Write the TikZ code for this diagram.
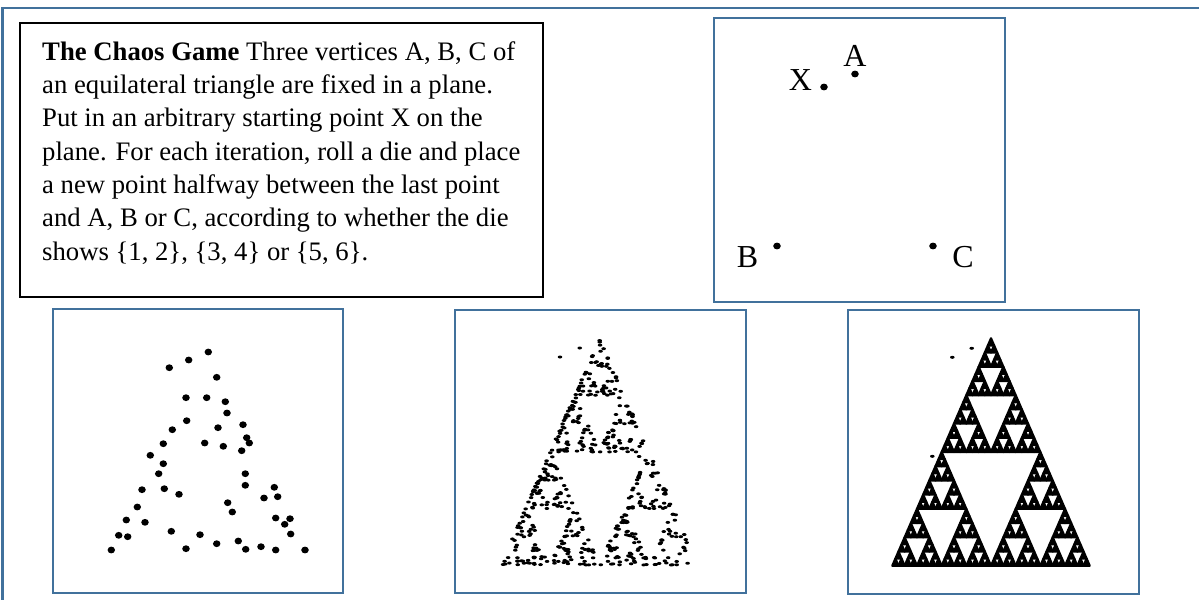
\documentclass[tikz,border=0pt]{standalone}
\usepackage{fontspec}
\setmainfont{Liberation Serif}
\usetikzlibrary{calc}
\definecolor{frameblue}{RGB}{65,113,156}
\newcommand\cgdot[1]{\draw[line width=3] #1 ellipse (2.1 and 1.8);}
\newcommand\cgspeck[1]{\fill #1 ellipse (2.3 and 1.5);}

\begin{document}
\begin{tikzpicture}[x=1pt, y=-1pt,
  panel/.style={draw=frameblue, line width=2.5, inner sep=0, outer sep=0, minimum width=291, minimum height=284},
  letter/.style={inner sep=0, font=\fontsize{32}{38}\selectfont}]
\useasboundingbox (0,0) rectangle (1199,600);
\draw[frameblue, line width=2.5] (1199,8) -- (2.5,8) -- (2.5,600);

\node[draw, line width=2, inner sep=0, minimum width=523, minimum height=274] (rulesbox) at (281.5,160) {};
\node[anchor=north west, inner sep=0, align=left, font=\fontsize{26.7}{33.3}\selectfont] (rules) at (42,41.3)
  {\textbf{The Chaos Game} Three vertices A, B, C of\\
   an equilateral triangle are fixed in a plane.\\
   Put in an arbitrary starting point X on the\\
   plane. For each iteration, roll a die and place\\
   a new point halfway between the last point\\
   and A, B or C, according to whether the die\\
   shows \{1, 2\}, \{3, 4\} or \{5, 6\}.};

\node[panel] (start) at (859.5,160) {};
\node[panel, minimum width=290] (few) at (198,451) {};
\node[panel, minimum height=283] (more) at (600.5,451.5) {};
\node[panel] (many) at (993.5,452) {};

% start position
\node[letter] (lx) at (800.5,80) {X};
\node[letter] (la) at (855,56) {A};
\node[letter] (lb) at (747.5,257.5) {B};
\node[letter] (lc) at (963,257.5) {C};
\cgdot{(824,87)}
\cgdot{(855,74)}
\cgdot{(777,246)}
\cgdot{(933,246)}

% a few iterations
\foreach \x/\y in {208.3/352, 188.7/360, 169.3/367.7, 216.7/377.3, 186/397.7, 206.7/397.7,
  225.3/401.7, 227/413, 186.7/420.7, 172.3/429.7, 218/427.7, 243/424.7, 246.7/437.7,
  249.3/443, 163.3/443.7, 204.7/443, 223.3/446.3, 241.7/450.7, 150.3/455.3, 163.3/463.7,
  158.7/473.7, 245.3/473.7, 245.3/485.3, 142/489.7, 164.3/488.7, 179/494.3, 274.3/487.3,
  264/498, 277.7/496.7, 227.7/502.7, 137.3/507, 232.3/512, 126.3/520, 145/522.3,
  275.7/518, 290/518.7, 284.7/524.3, 118.7/535.3, 127.7/536.7, 171.3/531.3, 200/534.7,
  290.7/534, 216.7/543.7, 238.3/541, 186/548.7, 245.7/549.3, 261/546.7, 275.7/550,
  111.3/550, 305/550}
  \cgdot{(\x,\y)};

% more iterations
\pgfmathsetseed{42}
\xdef\cx{560}\xdef\cy{357}
\cgspeck{(\cx,\cy)}
\foreach \k in {1,...,560}{
  \pgfmathrandominteger{\die}{0}{2}
  \ifcase\die \def\vx{599.5}\def\vy{339}\or \def\vx{501}\def\vy{565}\or \def\vx{698.5}\def\vy{565}\fi
  \pgfmathsetmacro\nx{(\cx+\vx)/2}
  \pgfmathsetmacro\ny{(\cy+\vy)/2}
  \xdef\cx{\nx}\xdef\cy{\ny}
  \cgspeck{(\cx,\cy)}
}

% many iterations
\coordinate (s0) at (892.3,565.7);
\coordinate (o0) at (0,0);
\coordinate (o1) at (197.4,0);
\coordinate (o2) at (98.7,-227.4);
\foreach \da in {0,1,2}{\foreach \db in {0,1,2}{\foreach \dc in {0,1,2}{\foreach \dd in {0,1,2}{\foreach \de in {0,1,2}{
  \filldraw[line width=2.2, line join=round] ($(s0)+0.5*(o\da)+0.25*(o\db)+0.125*(o\dc)+0.0625*(o\dd)+0.03125*(o\de)$)
    -- ++(6.17,0) -- ++(-3.085,-7.106) -- cycle;
}}}}}
\cgspeck{(952.3,357.3)}
\cgspeck{(971.7,348.3)}
\cgspeck{(932.3,456.3)}
\end{tikzpicture}
\end{document}
